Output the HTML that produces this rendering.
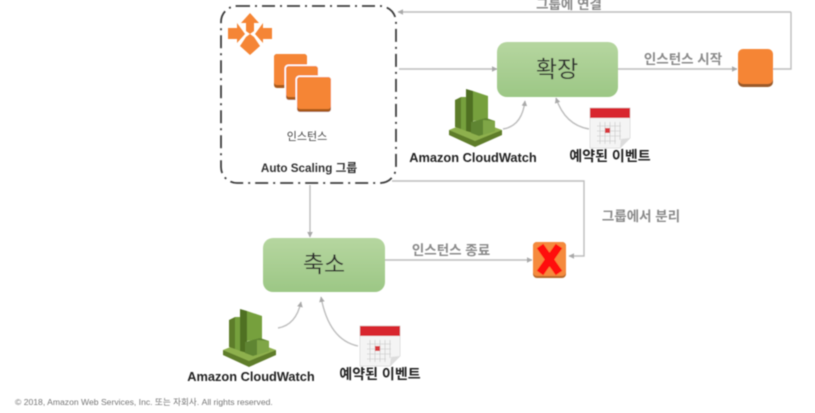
<!DOCTYPE html>
<html><head><meta charset="utf-8">
<style>
html,body{margin:0;padding:0;background:#fff;width:815px;height:413px;overflow:hidden}
svg{display:block}
text{font-family:"Liberation Sans","Noto Sans CJK KR",sans-serif}
</style></head><body>
<svg width="815" height="413" viewBox="0 0 815 413" xmlns="http://www.w3.org/2000/svg">
<defs>
<filter id="b" x="-5%" y="-5%" width="110%" height="110%"><feGaussianBlur stdDeviation="0.6"/></filter>
<linearGradient id="g" x1="0" y1="0" x2="0" y2="1"><stop offset="0" stop-color="#b6d6a0"/><stop offset="1" stop-color="#9cc785"/></linearGradient>
<marker id="a" markerWidth="6" markerHeight="6" refX="5" refY="3" orient="auto" markerUnits="userSpaceOnUse"><path d="M0 0.2L5.5 3L0 5.8z" fill="#a9a9a9"/></marker>
<g id="cw">
<path d="M0 41L26 50L53 41L53 46L26 58L0 46z" fill="#5f7d2c"/>
<path d="M0 41L10 37L26 42L42 37L53 41L26 52z" fill="#8eb04d"/>
<path d="M6 11L12 8V40L6 38z" fill="#5d7d2b"/>
<path d="M12 8L17 8V42L12 40z" fill="#76a03c"/>
<path d="M17 0L24 2V44L17 42z" fill="#4f6f24"/>
<path d="M24 2L39 7V30L24 32V44z" fill="#76a03c"/>
<path d="M22 33L37 29L46 32V42L30 47L22 44z" fill="#5f8530"/>
<path d="M34 31L46 32V42L34 46z" fill="#7fa646"/>
</g>
<g id="cal">
<path d="M0 0H40V30L30 40H0z" fill="#f4f4f4" stroke="#e0e0e0" stroke-width="1"/>
<rect x="0" y="0" width="40" height="10" fill="#d8272d"/>
<path d="M7 18H31M7 23H31M7 28H31M7 33H26M10 14V36M15 14V36M20 14V36M25 14V36M30 14V32" stroke="#cfcfcf" stroke-width="0.8" fill="none"/>
<rect x="15" y="20" width="5" height="5" fill="#d8383c"/>
<path d="M40 30L30 40L31 31z" fill="#dcdcdc"/>
</g>
</defs>
<g filter="url(#b)">
<!-- connectors -->
<g fill="none" stroke="#bdbdbd" stroke-width="1.4">
<path d="M791 12H398" marker-end="url(#a)"/>
<path d="M791 12V69H772"/>
<path d="M399 69H497" marker-end="url(#a)"/>
<path d="M617 69H737" marker-end="url(#a)"/>
<path d="M310 185V237" marker-end="url(#a)"/>
<path d="M385 260H532" marker-end="url(#a)"/>
<path d="M392 181H584V256H569" marker-end="url(#a)"/>
<path d="M503 129Q522 126 525 101" marker-end="url(#a)"/>
<path d="M589 129Q565 125 556 98" marker-end="url(#a)"/>
<path d="M278 328Q296 325 301 302" marker-end="url(#a)"/>
<path d="M358 346Q329 340 321 297" marker-end="url(#a)"/>
</g>
<!-- ASG box -->
<rect x="221" y="6" width="175" height="177" rx="16" fill="none" stroke="#3d3d3d" stroke-width="1.8" stroke-dasharray="13 5 2 5"/>
<!-- scaling arrows -->
<g fill="#f58536">
<path d="M250 13L259 23H254V31L250 34L246 31V23H241z"/>
<path d="M250 55L240 46L246 37L250 34L254 37L260 46z"/>
<path d="M228 28H237V23L245 34L237 43V39H228z"/>
<path d="M272 28H263V23L255 34L263 43V39H272z"/>
</g>
<!-- instance stack -->
<g>
<rect x="274" y="54" width="33" height="34" rx="3" fill="#a95a1f"/><rect x="274" y="54" width="33" height="31" rx="3" fill="#f58536"/>
<rect x="284.500" y="64.500" width="35" height="37" rx="4" fill="#fff"/>
<rect x="286" y="66" width="32" height="34" rx="3" fill="#a95a1f"/><rect x="286" y="66" width="32" height="31" rx="3" fill="#f58536"/>
<rect x="295.500" y="75.500" width="37" height="38" rx="4" fill="#fff"/>
<rect x="297" y="77" width="34" height="35" rx="3" fill="#a95a1f"/><rect x="297" y="77" width="34" height="32" rx="3" fill="#f58536"/>
</g>
<text x="307" y="140" font-size="11" fill="#444" text-anchor="middle">인스턴스</text>
<text x="309" y="172" font-size="11.7" font-weight="700" fill="#333" text-anchor="middle">Auto Scaling 그룹</text>
<!-- green boxes -->
<rect x="497" y="42" width="121" height="55" rx="10" fill="url(#g)"/>
<text x="557" y="77" font-size="23" fill="#2d2d2d" text-anchor="middle">확장</text>
<rect x="263" y="238" width="122" height="54" rx="10" fill="url(#g)"/>
<text x="324" y="272" font-size="23" fill="#2d2d2d" text-anchor="middle">축소</text>
<!-- orange instance -->
<rect x="738" y="50" width="35" height="37" rx="5" fill="#9a5a2a"/>
<rect x="738" y="49" width="35" height="35" rx="5" fill="#f58536"/>
<!-- X -->
<rect x="533" y="242" width="33" height="36" rx="4" fill="#b8692c"/>
<rect x="533" y="242" width="33" height="34" rx="4" fill="#f58a3c"/>
<path d="M540 246L559 273M559 246L540 273" stroke="#f11" stroke-width="8" fill="none"/>
<!-- labels -->
<g font-size="13.5" fill="#8a8a8a" font-weight="700">
<text x="569" y="9" text-anchor="middle">그룹에 연결</text>
<text x="683" y="64" text-anchor="middle">인스턴스 시작</text>
<text x="641" y="221" text-anchor="middle">그룹에서 분리</text>
<text x="451" y="255" text-anchor="middle">인스턴스 종료</text>
</g>
<!-- watch & calendars -->
<use href="#cw" x="449" y="89"/>
<use href="#cw" x="223" y="309"/>
<use href="#cal" x="590" y="108"/>
<use href="#cal" x="360" y="326"/>
<g font-weight="700" fill="#222">
<text x="473" y="162" font-size="12.8" text-anchor="middle">Amazon CloudWatch</text>
<text x="610" y="161" font-size="14" text-anchor="middle">예약된 이벤트</text>
<text x="251" y="381" font-size="12.8" text-anchor="middle">Amazon CloudWatch</text>
<text x="380" y="379" font-size="14" text-anchor="middle">예약된 이벤트</text>
</g>
<text x="15" y="405" font-size="8.6" fill="#777">© 2018, Amazon Web Services, Inc. 또는 자회사. All rights reserved.</text>
</g>
</svg>
</body></html>
